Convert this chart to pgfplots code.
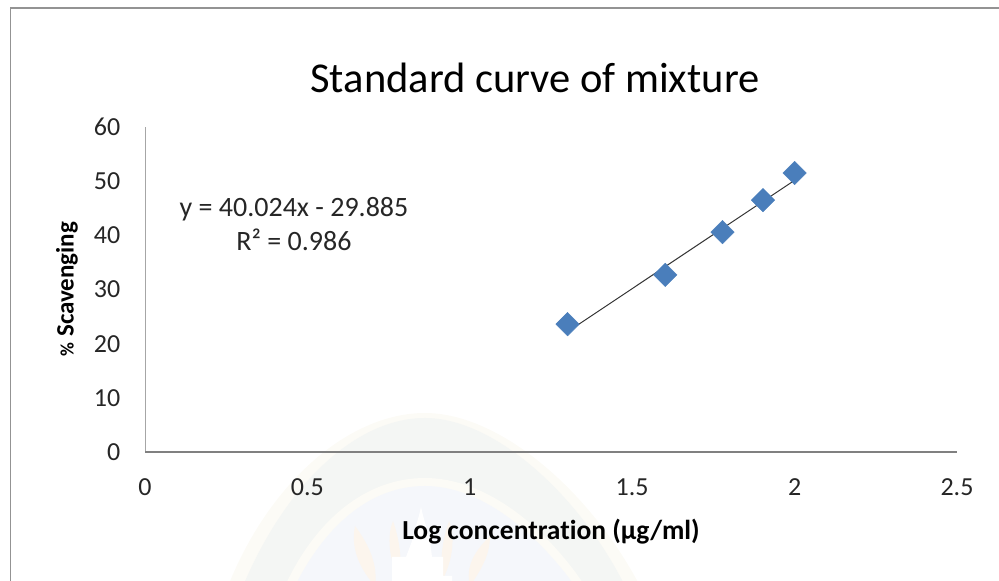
\documentclass[border=0pt]{standalone}
\usepackage{pgfplots}
\pgfplotsset{compat=1.18}
\usepackage{fontspec}
\setmainfont[Ligatures=NoCommon]{Carlito}
\definecolor{pt}{RGB}{74,126,187}
\definecolor{wmcream}{RGB}{252,251,246}
\definecolor{wmgray}{RGB}{244,246,244}
\definecolor{wmblue}{RGB}{245,247,251}
\definecolor{wmflame}{RGB}{252,245,237}
\begin{document}
\begin{tikzpicture}[x=1pt,y=1pt]
\path[use as bounding box] (0,0) rectangle (999,581);
\begin{scope}
\clip (0,0) rectangle (999,581);
% faint watermark behind the chart
\fill[wmcream] (228,-5) .. controls (270,100) and (350,168) .. (425,168) .. controls (500,168) and (590,90) .. (640,-5) -- cycle;
\fill[wmgray] (243,-5) .. controls (285,95) and (355,163) .. (425,163) .. controls (495,163) and (580,85) .. (625,-5) -- cycle;
\fill[wmcream] (285,-5) .. controls (315,60) and (365,103) .. (425,103) .. controls (485,103) and (545,55) .. (585,-5) -- cycle;
\fill[wmblue] (295,-5) .. controls (325,55) and (370,95) .. (425,95) .. controls (480,95) and (535,50) .. (575,-5) -- cycle;
\fill[wmflame] (393,60) .. controls (385,40) and (392,15) .. (400,0) .. controls (402,20) and (400,40) .. (393,60) -- cycle;
\fill[wmflame] (449,60) .. controls (457,40) and (450,15) .. (442,0) .. controls (440,20) and (442,40) .. (449,60) -- cycle;
\fill[wmflame] (355,55) .. controls (350,30) and (362,10) .. (375,-5) .. controls (378,15) and (370,35) .. (355,55) -- cycle;
\fill[wmflame] (490,45) .. controls (490,25) and (480,10) .. (470,-5) .. controls (465,15) and (475,30) .. (490,45) -- cycle;
\fill[white] (421,74) .. controls (418,60) and (414,50) .. (412,40) -- (406,24) -- (392,24) -- (392,-5) -- (452,-5) -- (452,5) -- (443,5) -- (443,24) -- (432,24) -- (430,40) .. controls (428,50) and (424,60) .. (421,74) -- cycle;
\end{scope}
\draw[gray!85!white,line width=1.6pt] (10.5,-5) -- (10.5,573) -- (999,573);
\begin{axis}[
  at={(145pt,129pt)},anchor=south west,scale only axis,
  width=812pt,height=325pt,
  xmin=0,xmax=2.5,ymin=0,ymax=60,
  xtick={0,0.5,1,1.5,2,2.5},ytick={0,10,...,60},
  xticklabels={0,0.5,1,1.5,2,2.5},
  axis lines=left,axis line style={-,draw=none},
  tick style={draw=none},
  clip=false,
  /pgf/number format/assume math mode=true,
  tick label style={font=\fontsize{26}{28}\selectfont,text=black!85},
  xtick pos=bottom,
  xticklabel style={yshift=-21pt},
  yticklabel style={xshift=-19pt},
]
\addplot[gray!70,line width=1pt] coordinates {(0,0) (0,60)};
\addplot[gray,line width=1.8pt] coordinates {(0,0) (2.5,0)};
\addplot[only marks,mark=square*,mark size=8.3pt,mark options={fill=pt,draw=pt,rotate=45}]
  coordinates {(1.301,23.6) (1.602,32.7) (1.778,40.6) (1.903,46.5) (2,51.5)};
\addplot[black!80,line width=1pt] coordinates {(1.301,22.2) (2,50.16)};
\end{axis}
\node[font=\fontsize{42.5}{44}\selectfont] at (535,503) {Standard curve of mixture};
\node[font=\fontsize{28}{30}\selectfont,text=black!85] at (294,372) {y = 40.024x - 29.885};
\node[font=\fontsize{28}{30}\selectfont,text=black!85] at (294,341) {R² = 0.986};
\node[font=\bfseries\fontsize{27.5}{30}\selectfont] at (551,49) {Log concentration (µg/ml)};
\node[font=\bfseries\fontsize{25}{27}\selectfont,rotate=90] at (67,292) {{\fontsize{19}{27}\selectfont\%} Scavenging};
\end{tikzpicture}
\end{document}
